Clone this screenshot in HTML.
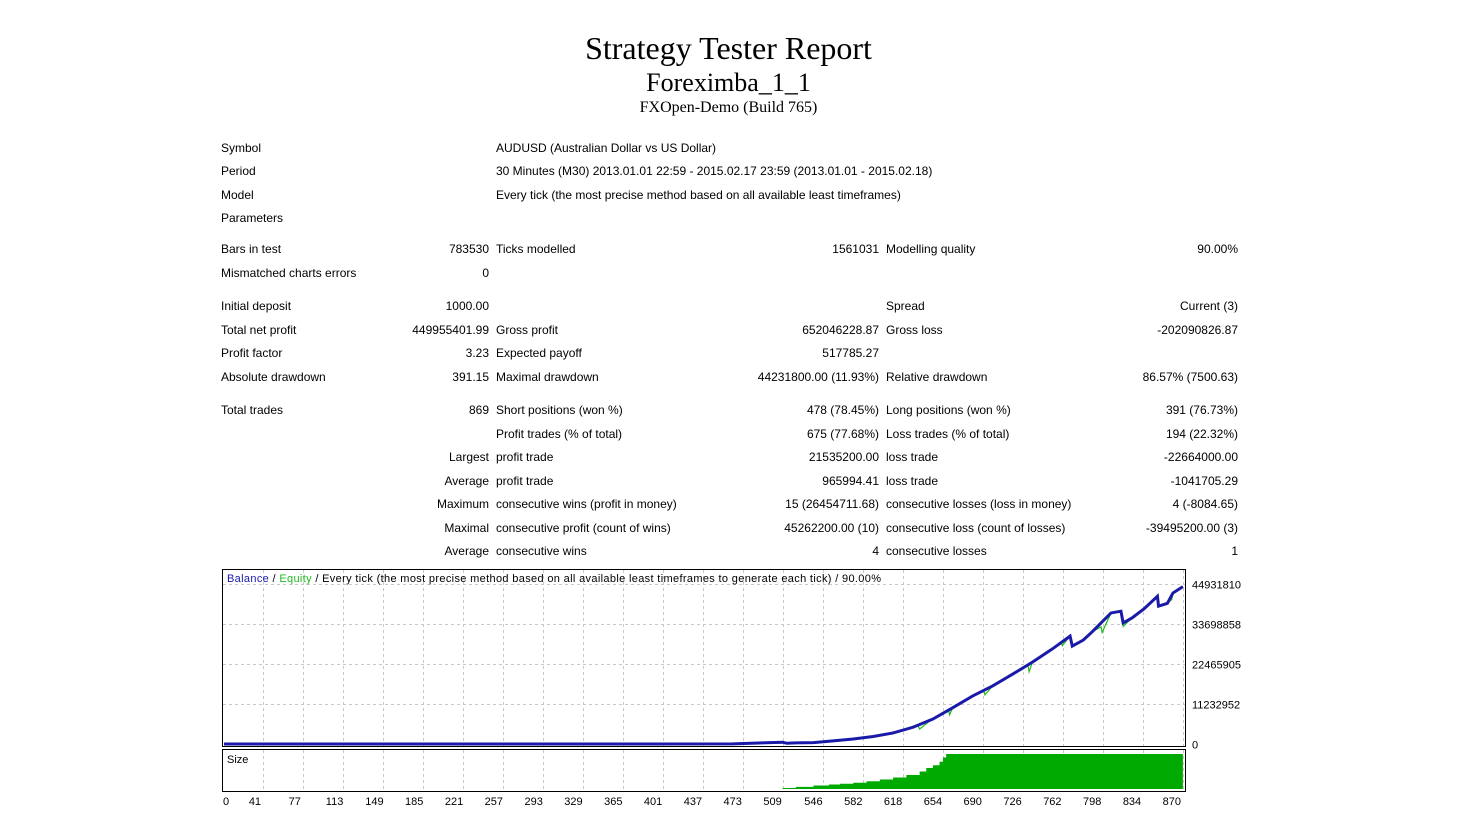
<!DOCTYPE html>
<html><head><meta charset="utf-8">
<style>
body{margin:0;width:1457px;height:830px;background:#fff;position:relative;overflow:hidden;font-family:"Liberation Sans",sans-serif;font-size:12px;color:#000}
.t{position:absolute;white-space:nowrap;line-height:14px}
.h{position:absolute;left:0;width:1457px;text-align:center;font-family:"Liberation Serif",serif;white-space:nowrap}
</style></head><body>
<div class="h" style="top:29px;font-size:32px;line-height:38px;">Strategy Tester Report</div>
<div class="h" style="top:68px;font-size:26px;line-height:30px;">Foreximba_1_1</div>
<div class="h" style="top:99px;font-size:16px;line-height:18px;">FXOpen-Demo (Build 765)</div>
<div id="tbl"></div>
<svg id="chart" width="1457" height="830" style="position:absolute;left:0;top:0"></svg>
<script>
const rows=[
[141,[[221,'Symbol','l'],[496,'AUDUSD (Australian Dollar vs US Dollar)','l']]],
[164,[[221,'Period','l'],[496,'30 Minutes (M30) 2013.01.01 22:59 - 2015.02.17 23:59 (2013.01.01 - 2015.02.18)','l']]],
[188,[[221,'Model','l'],[496,'Every tick (the most precise method based on all available least timeframes)','l']]],
[211,[[221,'Parameters','l']]],
[242,[[221,'Bars in test','l'],[489,'783530','r'],[496,'Ticks modelled','l'],[879,'1561031','r'],[886,'Modelling quality','l'],[1238,'90.00%','r']]],
[266,[[221,'Mismatched charts errors','l'],[489,'0','r']]],
[299,[[221,'Initial deposit','l'],[489,'1000.00','r'],[886,'Spread','l'],[1238,'Current (3)','r']]],
[323,[[221,'Total net profit','l'],[489,'449955401.99','r'],[496,'Gross profit','l'],[879,'652046228.87','r'],[886,'Gross loss','l'],[1238,'-202090826.87','r']]],
[346,[[221,'Profit factor','l'],[489,'3.23','r'],[496,'Expected payoff','l'],[879,'517785.27','r']]],
[370,[[221,'Absolute drawdown','l'],[489,'391.15','r'],[496,'Maximal drawdown','l'],[879,'44231800.00 (11.93%)','r'],[886,'Relative drawdown','l'],[1238,'86.57% (7500.63)','r']]],
[403,[[221,'Total trades','l'],[489,'869','r'],[496,'Short positions (won %)','l'],[879,'478 (78.45%)','r'],[886,'Long positions (won %)','l'],[1238,'391 (76.73%)','r']]],
[427,[[496,'Profit trades (% of total)','l'],[879,'675 (77.68%)','r'],[886,'Loss trades (% of total)','l'],[1238,'194 (22.32%)','r']]],
[450,[[489,'Largest','r'],[496,'profit trade','l'],[879,'21535200.00','r'],[886,'loss trade','l'],[1238,'-22664000.00','r']]],
[474,[[489,'Average','r'],[496,'profit trade','l'],[879,'965994.41','r'],[886,'loss trade','l'],[1238,'-1041705.29','r']]],
[497,[[489,'Maximum','r'],[496,'consecutive wins (profit in money)','l'],[879,'15 (26454711.68)','r'],[886,'consecutive losses (loss in money)','l'],[1238,'4 (-8084.65)','r']]],
[521,[[489,'Maximal','r'],[496,'consecutive profit (count of wins)','l'],[879,'45262200.00 (10)','r'],[886,'consecutive loss (count of losses)','l'],[1238,'-39495200.00 (3)','r']]],
[544,[[489,'Average','r'],[496,'consecutive wins','l'],[879,'4','r'],[886,'consecutive losses','l'],[1238,'1','r']]]
];
const tbl=document.getElementById('tbl');
rows.forEach(([y,cells])=>cells.forEach(([x,txt,al])=>{
  const d=document.createElement('div');
  d.className='t';
  d.textContent=txt;
  if(al==='r'){d.style.right=(1457-x)+'px';}else{d.style.left=x+'px';}
  d.style.top=y+'px';
  
  
  tbl.appendChild(d);
}));

// ---- chart data ----
const balTrades=[13,100,200,300,400,473,490,518,522,530,546,565,582,600,618,636,654,672,690,708,726,744,762,778,780,790,798,815,824,826,834,845,857,858,866,871,880];
const balValues=[0,0,0,0,0,0.05,0.2,0.5,0.2,0.3,0.4,0.9,1.4,2.1,3.1,4.7,7.0,10.2,13.5,16.3,19.6,23.0,26.7,30.3,27.5,29.2,31.5,36.8,37.3,34.0,35.4,38.0,41.5,38.7,39.5,42.4,44.2];
const eqTrades=[13,473,530,546,560,582,590,600,618,640,642,650,654,668,669,672,690,700,701,708,726,740,741,744,762,770,771,778,780,790,798,806,807,815,824,826,830,834,845,857,858,866,870,871,880];
const eqValues=[0,0.05,0.3,0.4,0.6,1.4,1.5,2.1,3.1,5.4,4.2,6.2,7.0,9.7,8.2,10.2,13.5,15.0,13.8,16.3,19.6,22.0,20.3,23.0,26.7,28.8,27.6,30.3,27.5,29.2,31.5,32.9,31.3,36.8,37.3,33.0,34.2,35.4,38.0,41.5,38.7,39.5,40.6,42.4,44.2];
const sizeTrades=[518,530,546,560,570,582,594,606,618,630,642,648,654,660,663,666,700,800,880];
const sizeValues=[0.03,0.06,0.1,0.13,0.15,0.18,0.22,0.27,0.33,0.4,0.5,0.6,0.68,0.78,0.9,1,1,1,1];
const xTicks=[0,41,77,113,149,185,221,257,293,329,365,401,437,473,509,546,582,618,654,690,726,762,798,834,870];
const yTicks=[0,11232952,22465905,33698858,44931810];

const svg=document.getElementById('chart');
const NS='http://www.w3.org/2000/svg';
function el(tag,attrs,parent){const e=document.createElementNS(NS,tag);for(const k in attrs)e.setAttribute(k,attrs[k]);(parent||svg).appendChild(e);return e;}
const X=t=>209.6+t*1.106;
const Y=v=>744-v*1e6/11232952*40;
const SY=f=>789-f*35;

const frame=el('rect',{x:222.5,y:569.5,width:963,height:177,fill:'#fff',stroke:'#000'});


const sframe=el('rect',{x:222.5,y:749.5,width:963,height:42,fill:'#fff',stroke:'#000'});



for(let gx=263;gx<1185;gx+=40){
  const g=el('line',{x1:gx+.5,y1:570,x2:gx+.5,y2:746,stroke:'#c8c8c8','stroke-dasharray':'3,3'});
  
  
  const g2=el('line',{x1:gx+.5,y1:750,x2:gx+.5,y2:791,stroke:'#c8c8c8','stroke-dasharray':'3,3'});
  
  
}
yTicks.forEach(v=>{
  const y=Math.round(Y(v/1e6))+.5;
  if(v>0){
    const g=el('line',{x1:223,y1:y,x2:1185,y2:y,stroke:'#c8c8c8','stroke-dasharray':'3,3'});
    
    
  }
  const t=el('text',{x:1192,y:y+4,'font-size':11,'font-family':'Liberation Sans, sans-serif'});
  t.textContent=v;
  
  
});

let sd='';
for(let i=0;i<sizeTrades.length-1;i++){
  const x0=X(sizeTrades[i]),x1=Math.min(X(sizeTrades[i+1]),1185);
  sd+=`M${x0},789V${SY(sizeValues[i])}H${x1}V789Z`;
}
const bars=el('path',{d:sd,fill:'#00aa00'});



const eq=el('polyline',{points:eqTrades.map((t,i)=>X(t)+','+Y(eqValues[i])).join(' '),fill:'none',stroke:'#22bb22','stroke-width':1.2});


const bal=el('polyline',{points:balTrades.map((t,i)=>X(t)+','+Y(balValues[i])).join(' '),fill:'none',stroke:'#1a1aa8','stroke-width':3});



xTicks.forEach((t,i)=>{
  const tx=el('text',{x:i===0?226:X(t),y:805,'font-size':11,'text-anchor':'middle','font-family':'Liberation Sans, sans-serif'});
  tx.textContent=t;
  
  
});

const lg=el('text',{x:227,y:582,'font-size':11,'font-family':'Liberation Sans, sans-serif',textLength:654});


const parts=[['Balance','#1a1aa8'],[' / ','#000'],['Equity','#22bb22'],[' / Every tick (the most precise method based on all available least timeframes to generate each tick) / 90.00%','#000']];
parts.forEach(([s,c])=>{const ts=el('tspan',{fill:c},lg);ts.textContent=s;});
const sz=el('text',{x:227,y:763,'font-size':11,'font-family':'Liberation Sans, sans-serif'});
sz.textContent='Size';


</script>
</body></html>
